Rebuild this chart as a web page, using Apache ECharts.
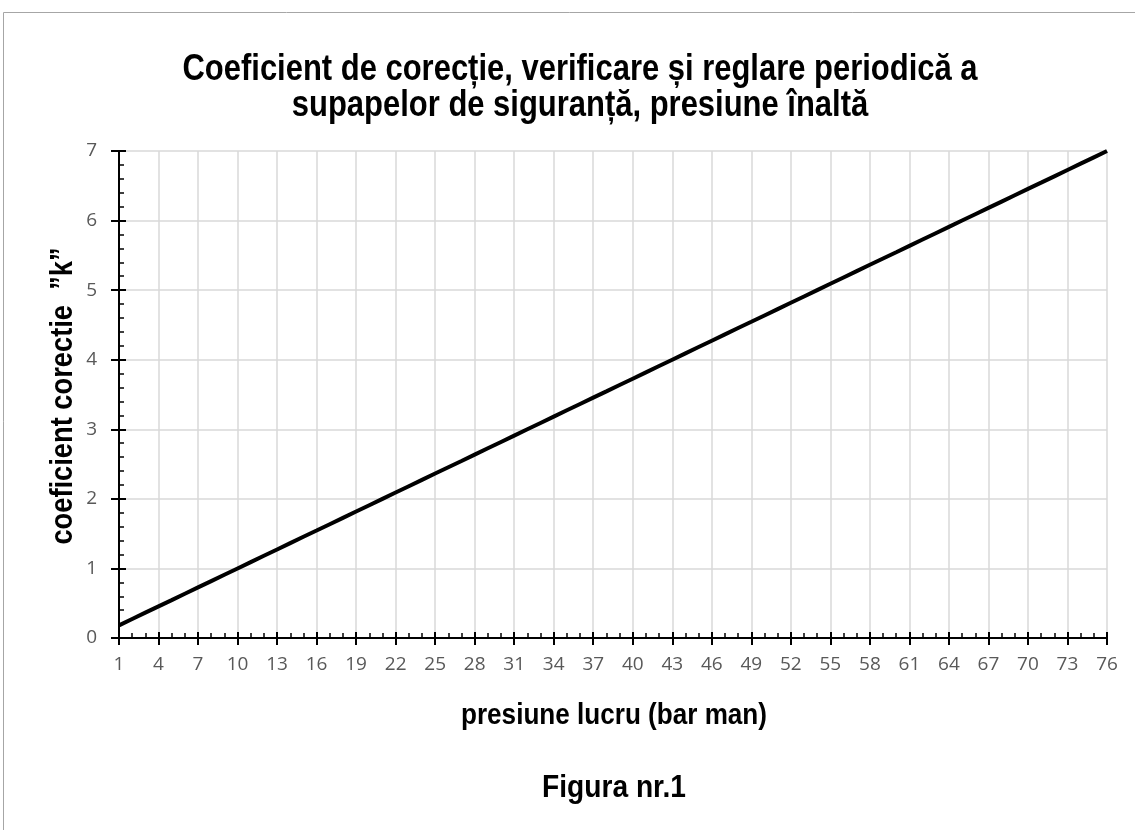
<!DOCTYPE html>
<html><head><meta charset="utf-8">
<script src="https://cdn.jsdelivr.net/npm/echarts@6/dist/echarts.min.js"></script>
<style>html,body{margin:0;padding:0;background:#fff}#c{width:1135px;height:830px}</style>
</head><body><div id="c"></div>
<script>
const categories = ['1','2','3','4','5','6','7','8','9','10','11','12','13','14','15','16','17','18','19','20',
'21','22','23','24','25','26','27','28','29','30','31','32','33','34','35','36','37','38','39','40',
'41','42','43','44','45','46','47','48','49','50','51','52','53','54','55','56','57','58','59','60',
'61','62','63','64','65','66','67','68','69','70','71','72','73','74','75','76'];
const kValues = [0.182,0.273,0.364,0.455,0.545,0.636,0.727,0.818,0.909,1.000,
1.091,1.182,1.273,1.364,1.455,1.545,1.636,1.727,1.818,1.909,
2.000,2.091,2.182,2.273,2.364,2.455,2.545,2.636,2.727,2.818,
2.909,3.000,3.091,3.182,3.273,3.364,3.455,3.545,3.636,3.727,
3.818,3.909,4.000,4.091,4.182,4.273,4.364,4.455,4.545,4.636,
4.727,4.818,4.909,5.000,5.091,5.182,5.273,5.364,5.455,5.545,
5.636,5.727,5.818,5.909,6.000,6.091,6.182,6.273,6.364,6.455,
6.545,6.636,6.727,6.818,6.909,7.000];
const titleLines = ['Coeficient de corecție, verificare și reglare periodică a', 'supapelor de siguranță, presiune înaltă'];
const xName = 'presiune lucru (bar man)';
const yName = 'coeficient corectie  ”k”';
const figText = 'Figura nr.1';

const bold = '"Liberation Sans",Arial,sans-serif';
const lab = '"Open Sans",Lato,sans-serif';
const chart = echarts.init(document.getElementById('c'));
const axisLine = {show:true, onZero:false, lineStyle:{color:'#000', width:2}};
function txt(text, x, y, size, sx, rot){
  return {type:'text', x:x, y:y, scaleX:sx, rotation:rot||0, silent:true,
    style:{text:text, x:0, y:0, align:'center', verticalAlign:'middle', textAlign:'center', textVerticalAlign:'middle',
      font:'bold '+size+'px '+bold, fill:'#000'}};
}
chart.setOption({
  animation:false,
  graphic:[
    {type:'rect', shape:{x:3.5,y:12.5,width:1300,height:1000}, style:{fill:'none', stroke:'#a6a6a6', lineWidth:1}, silent:true},
    txt(titleLines[0], 580, 70, 36, 0.86),
    txt(titleLines[1], 580, 106, 36, 0.86),
    txt(xName, 614, 716, 30, 0.87),
    txt(figText, 614, 788, 32, 0.88),
    txt(yName, 63, 396, 31, 0.88, Math.PI/2)
  ],
  grid:{left:119, right:28, top:151, bottom:192, containLabel:false},
  xAxis:[
    {type:'category', data:categories, boundaryGap:false, position:'bottom',
     axisLine:axisLine,
     axisTick:{show:true, interval:2, length:7, lineStyle:{color:'#000', width:2}},
     axisLabel:{interval:2, fontFamily:lab, fontSize:19, color:'#595959', margin:17},
     splitLine:{show:true, interval:2, lineStyle:{color:'#d9d9d9', width:1.5}}},
    {type:'category', data:categories, boundaryGap:false, position:'bottom',
     axisLine:{show:false}, axisTick:{show:true, inside:true, interval:0, length:5, lineStyle:{color:'#000', width:1.5}},
     axisLabel:{show:false}, splitLine:{show:false}},
    {type:'category', data:categories, boundaryGap:false, position:'bottom',
     axisLine:{show:false}, axisTick:{show:true, inside:true, interval:2, length:6, lineStyle:{color:'#000', width:2}},
     axisLabel:{show:false}, splitLine:{show:false}}
  ],
  yAxis:[
    {type:'value', min:0, max:7, interval:1, position:'left',
     axisLine:axisLine,
     axisTick:{show:true, length:8, lineStyle:{color:'#000', width:2}},
     axisLabel:{fontFamily:lab, fontSize:19, color:'#595959', margin:22},
     splitLine:{show:true, lineStyle:{color:'#d9d9d9', width:1.5}}},
    {type:'value', min:0, max:7, interval:1, position:'left',
     axisLine:{show:false},
     axisTick:{show:true, inside:true, length:7, lineStyle:{color:'#000', width:2}},
     minorTick:{show:true, splitNumber:5, length:5, lineStyle:{color:'#000', width:1.5}},
     axisLabel:{show:false}, splitLine:{show:false}}
  ],
  series:[{type:'line', data:kValues, xAxisIndex:0, yAxisIndex:0, symbol:'none',
    lineStyle:{color:'#000', width:4}}]
});
</script></body></html>
